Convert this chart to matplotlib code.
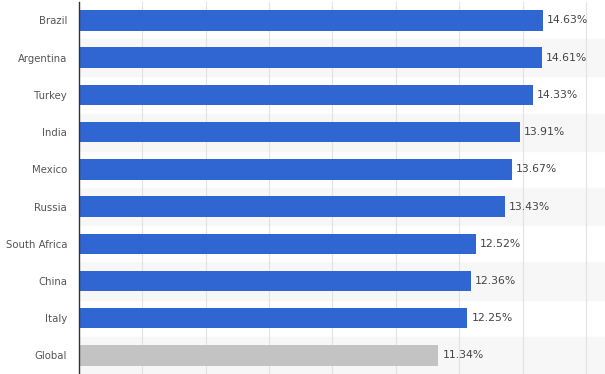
import matplotlib.pyplot as plt

countries = ["Brazil", "Argentina", "Turkey", "India", "Mexico", "Russia",
             "South Africa", "China", "Italy", "Global"]
rates = [14.63, 14.61, 14.33, 13.91, 13.67, 13.43, 12.52, 12.36, 12.25, 11.34]
labels = ["14.63%", "14.61%", "14.33%", "13.91%", "13.67%", "13.43%",
          "12.52%", "12.36%", "12.25%", "11.34%"]

colors = ["#2f66d1"] * 9 + ["#c3c3c3"]

fig = plt.figure(figsize=(6.05, 3.74), dpi=100)
ax = fig.add_axes([79 / 605, 0, 1 - 79 / 605, 0.995])

y = list(range(len(countries)))

# faint alternating row bands
for i in y:
    if i % 2 == 1:
        ax.axhspan(i - 0.5, i + 0.5, color="#f7f7f7", zorder=0)

ax.barh(y, rates, height=0.55, color=colors, zorder=3)

for yi, v, lab in zip(y, rates, labels):
    ax.text(v + 0.13, yi, lab, va="center", ha="left", fontsize=7.8,
            color="#444444", zorder=4)

ax.set_xlim(0, 16.6)
ax.set_ylim(len(countries) - 0.5, -0.5)
ax.set_xticks(range(2, 17, 2))
ax.xaxis.grid(True, color="#e2e2e2", linewidth=0.8, zorder=1)
ax.tick_params(axis="x", length=0, labelbottom=False)
ax.set_yticks(y)
ax.set_yticklabels(countries, fontsize=7.3, color="#555555")
ax.tick_params(axis="y", length=0, pad=8.5)

for s in ["top", "right", "bottom"]:
    ax.spines[s].set_visible(False)
ax.spines["left"].set_color("#333333")
ax.spines["left"].set_linewidth(1.0)
ax.spines["left"].set_zorder(5)

fig.savefig("out.png", dpi=100)
